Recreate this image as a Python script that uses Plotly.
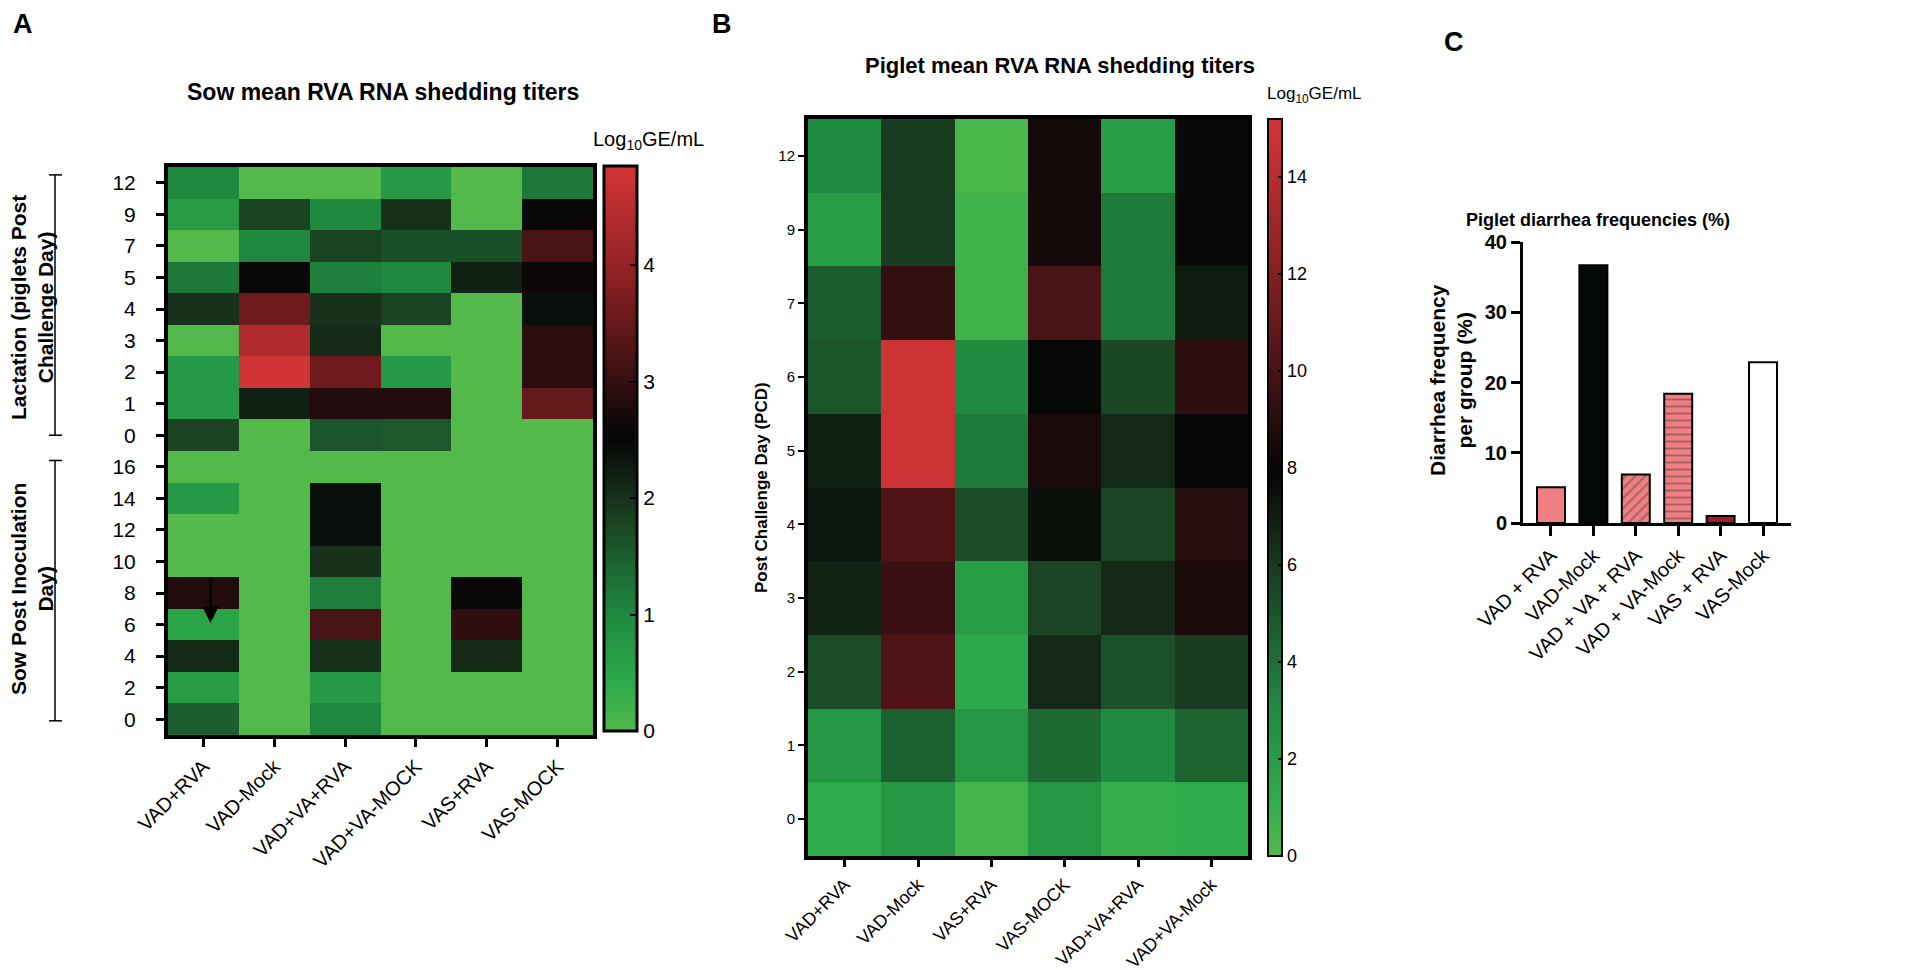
import plotly.graph_objects as go

# ---------------- data ----------------
sow_groups = ["VAD+RVA", "VAD-Mock", "VAD+VA+RVA", "VAD+VA-MOCK", "VAS+RVA", "VAS-MOCK"]
sow_day_labels = ["12", "9", "7", "5", "4", "3", "2", "1", "0",
                  "16", "14", "12", "10", "8", "6", "4", "2", "0"]
# Log10 GE/mL, rows top->bottom (lactation PCD 12..0, then sow PID 16..0)
sow_vad_rva = [1.0, 0.65, 0.0, 1.2, 2.0, 0.0, 0.7, 0.7, 1.8, 0.0, 0.7, 0.0, 0.0, 2.8, 0.5, 2.1, 0.65, 1.5]
sow_vad_mock = [0.0, 1.8, 1.0, 2.55, 3.6, 4.35, 4.8, 2.2, 0.0, 0.0, 0.0, 0.0, 0.0, 0.0, 0.0, 0.0, 0.0, 0.0]
sow_vadva_rva = [0.0, 1.0, 1.8, 1.1, 2.0, 2.1, 3.6, 2.8, 1.6, 0.0, 2.4, 2.4, 2.0, 1.1, 3.2, 2.0, 0.7, 1.0]
sow_vadva_mock = [0.7, 2.0, 1.65, 1.0, 1.8, 0.0, 0.7, 2.8, 1.55, 0.0, 0.0, 0.0, 0.0, 0.0, 0.0, 0.0, 0.0, 0.0]
sow_vas_rva = [0.0, 0.0, 1.65, 2.2, 0.0, 0.0, 0.0, 0.0, 0.0, 0.0, 0.0, 0.0, 0.0, 2.55, 2.95, 2.1, 0.0, 0.0]
sow_vas_mock = [1.2, 2.55, 3.2, 2.6, 2.4, 2.9, 2.9, 3.5, 0.0, 0.0, 0.0, 0.0, 0.0, 0.0, 0.0, 0.0, 0.0, 0.0]

piglet_groups = ["VAD+RVA", "VAD-Mock", "VAS+RVA", "VAS-MOCK", "VAD+VA+RVA", "VAD+VA-Mock"]
piglet_day_labels = ["12", "9", "7", "6", "5", "4", "3", "2", "1", "0"]
pig_vad_rva = [3.0, 2.0, 4.7, 5.0, 6.9, 7.3, 6.8, 5.3, 2.3, 1.2]
pig_vad_mock = [5.9, 5.9, 9.4, 14.9, 14.9, 10.3, 9.6, 10.3, 4.6, 2.3]
pig_vas_rva = [0.3, 0.6, 0.6, 3.0, 3.65, 5.3, 2.0, 1.3, 2.3, 0.4]
pig_vas_mock = [8.4, 8.4, 10.1, 7.8, 8.6, 7.5, 5.6, 6.6, 4.3, 2.3]
pig_vadva_rva = [2.0, 3.65, 3.65, 5.5, 6.6, 5.6, 6.6, 5.1, 3.0, 1.0]
pig_vadva_mock = [7.7, 7.7, 7.1, 9.2, 7.9, 8.9, 8.6, 5.9, 4.5, 1.2]

diarrhea_groups = ["VAD + RVA", "VAD-Mock", "VAD + VA + RVA", "VAD + VA-Mock", "VAS + RVA", "VAS-Mock"]
diarrhea_freq = [5.1, 36.7, 6.9, 18.4, 1.0, 22.9]

# ---------------- styling ----------------
W, H = 1905, 970
FONT = "Liberation Sans, Arial, sans-serif"
colorscale = [
    [0.00, "#52b94a"], [0.08, "#2dab4a"], [0.20, "#1f8a40"], [0.28, "#1c6a33"],
    [0.40, "#19361d"], [0.52, "#050505"], [0.63, "#3a1012"], [0.80, "#8a2022"],
    [1.00, "#d43437"],
]


def px(x):
    return x / W


def py(y):
    return 1 - y / H


sow_cols = [sow_vad_rva, sow_vad_mock, sow_vadva_rva, sow_vadva_mock, sow_vas_rva, sow_vas_mock]
sow_z = [list(r) for r in zip(*sow_cols)]
pig_cols = [pig_vad_rva, pig_vad_mock, pig_vas_rva, pig_vas_mock, pig_vadva_rva, pig_vadva_mock]
pig_z = [list(r) for r in zip(*pig_cols)]

sow_rows = list(range(len(sow_day_labels)))
pig_rows = list(range(len(piglet_day_labels)))

fig = go.Figure()

# Panel A heatmap
fig.add_trace(go.Heatmap(
    z=sow_z, x=list(range(len(sow_groups))), y=sow_rows,
    colorscale=colorscale, zmin=0, zmax=4.85, xaxis="x", yaxis="y",
    colorbar=dict(
        x=px(596), xanchor="left", y=py(723), yanchor="bottom",
        len=(723 - 158) / H, lenmode="fraction", thickness=33, thicknessmode="pixels",
        outlinewidth=3, outlinecolor="black", tickvals=[0, 1, 2, 3, 4],
        ticks="inside", ticklen=8, tickwidth=2, tickcolor="black",
        tickfont=dict(size=21, family=FONT, color="black"), xpad=0, ypad=0,
    ),
    hoverinfo="skip",
))

# Panel B heatmap
fig.add_trace(go.Heatmap(
    z=pig_z, x=list(range(len(piglet_groups))), y=pig_rows,
    colorscale=colorscale, zmin=0, zmax=15.2, xaxis="x2", yaxis="y2",
    colorbar=dict(
        x=px(1260), xanchor="left", y=py(848), yanchor="bottom",
        len=(848 - 111) / H, lenmode="fraction", thickness=14, thicknessmode="pixels",
        outlinewidth=2, outlinecolor="black", tickvals=list(range(0, 15, 2)),
        ticks="inside", ticklen=5, tickwidth=1.5, tickcolor="black",
        tickfont=dict(size=18, family=FONT, color="black"), xpad=0, ypad=0,
    ),
    hoverinfo="skip",
))

# Panel C bars
bar_fill = ["#f07e82", "#050808", "#f07e82", "#f07e82", "#a31c22", "white"]
bar_shape = ["", "", "/", "-", "", ""]
fig.add_trace(go.Bar(
    x=list(range(len(diarrhea_groups))), y=diarrhea_freq, xaxis="x3", yaxis="y3",
    width=0.66,
    marker=dict(
        color=bar_fill, line=dict(color="black", width=2),
        pattern=dict(shape=bar_shape, fgcolor="white", bgcolor=bar_fill,
                     size=7, solidity=0.25, fillmode="overlay"),
    ),
    hoverinfo="skip", showlegend=False,
))

axis_common = dict(showgrid=False, zeroline=False, color="black", automargin=False)

fig.update_layout(
    template="none",
    width=W, height=H, margin=dict(l=0, r=0, t=0, b=0, pad=0), autosize=False,
    paper_bgcolor="white", plot_bgcolor="white", showlegend=False,
    font=dict(family=FONT, color="black"),
    xaxis=dict(
        domain=[px(160), px(585)], anchor="y", range=[-0.5, 5.5],
        tickvals=list(range(len(sow_groups))), ticktext=sow_groups, tickangle=-45,
        ticks="outside", ticklen=8, tickwidth=3, tickcolor="black",
        tickfont=dict(size=20, family=FONT), showline=True, linewidth=4,
        linecolor="black", mirror=True, **axis_common,
    ),
    yaxis=dict(
        domain=[py(727), py(159)], anchor="x", range=[17.5, -0.5],
        tickvals=sow_rows, ticktext=sow_day_labels,
        ticks="outside", ticklen=8, tickwidth=3, tickcolor="black",
        tickfont=dict(size=21, family=FONT), ticklabelstandoff=16,
        showline=True, linewidth=4, linecolor="black", mirror=True, **axis_common,
    ),
    xaxis2=dict(
        domain=[px(800), px(1240)], anchor="y2", range=[-0.5, 5.5],
        tickvals=list(range(len(piglet_groups))), ticktext=piglet_groups, tickangle=-45,
        ticks="outside", ticklen=7, tickwidth=3, tickcolor="black",
        tickfont=dict(size=18, family=FONT), showline=True, linewidth=4,
        linecolor="black", mirror=True, **axis_common,
    ),
    yaxis2=dict(
        domain=[py(848), py(111)], anchor="x2", range=[9.5, -0.5],
        tickvals=pig_rows, ticktext=piglet_day_labels,
        ticks="outside", ticklen=6, tickwidth=2, tickcolor="black",
        tickfont=dict(size=15, family=FONT),
        showline=True, linewidth=4, linecolor="black", mirror=True, **axis_common,
    ),
    xaxis3=dict(
        domain=[px(1515), px(1783)], anchor="y3", range=[-0.66, 5.66],
        tickvals=list(range(len(diarrhea_groups))), ticktext=diarrhea_groups, tickangle=-45,
        ticks="outside", ticklen=10, tickwidth=3, tickcolor="black",
        tickfont=dict(size=20, family=FONT), showline=True, linewidth=3,
        linecolor="black", **axis_common,
    ),
    yaxis3=dict(
        domain=[py(515), py(234)], anchor="x3", range=[0, 40],
        tickvals=[0, 10, 20, 30, 40],
        ticks="outside", ticklen=9, tickwidth=3, tickcolor="black",
        tickfont=dict(size=20, family=FONT, weight="bold"),
        showline=True, linewidth=3, linecolor="black", **axis_common,
    ),
)

ann = []


def text(x, y, s, size, bold=False, angle=0, xanchor="center", yanchor="middle", align="center"):
    ann.append(dict(
        x=x, y=y, xref="paper", yref="paper", text=s, showarrow=False,
        textangle=angle, xanchor=xanchor, yanchor=yanchor, align=align,
        font=dict(size=size, family=FONT, color="black", weight="bold" if bold else "normal"),
    ))


# panel letters
text(px(3), py(16), "A", 27, bold=True, xanchor="left")
text(px(702), py(16), "B", 27, bold=True, xanchor="left")
text(px(1434), py(34), "C", 27, bold=True, xanchor="left")
# titles
text(px(375), py(84), "Sow mean RVA RNA shedding titers", 23, bold=True)
text(px(1052), py(57), "Piglet mean RVA RNA shedding titers", 22, bold=True)
text(px(1590), py(212), "Piglet diarrhea frequencies (%)", 18, bold=True)
# colorbar titles
text(px(640), py(133), "Log<sub>10</sub>GE/mL", 20)
text(px(1306), py(87), "Log<sub>10</sub>GE/mL", 17)
# axis titles
text(px(24), py(300), "Lactation (piglets Post<br>Challenge Day)", 21, bold=True, angle=-90)
text(px(24), py(581), "Sow Post Inoculation<br>Day)", 21, bold=True, angle=-90)
text(px(753), py(480), "Post Challenge Day (PCD)", 17, bold=True, angle=-90)
text(px(1443), py(372), "Diarrhea frequency<br>per group (%)", 21, bold=True, angle=-90)

# arrow in the sow heatmap (VAD+RVA, PID 8 -> 6)
ann.append(dict(
    x=0.1, y=13.95, xref="x", yref="y", ax=0.1, ay=12.45, axref="x", ayref="y",
    showarrow=True, arrowhead=2, arrowsize=1.1, arrowwidth=3, arrowcolor="black", text="",
))
fig.update_layout(annotations=ann)

# brackets for the sow heatmap row groups
shapes = []
for y0, y1 in [(-0.25, 8.0), (8.8, 17.05)]:
    shapes.append(dict(type="line", xref="paper", yref="y", x0=px(47), x1=px(47), y0=y0, y1=y1,
                       line=dict(color="black", width=1.5)))
    for yy in (y0, y1):
        shapes.append(dict(type="line", xref="paper", yref="y", x0=px(41), x1=px(54), y0=yy, y1=yy,
                           line=dict(color="black", width=1.5)))
fig.update_layout(shapes=shapes)

fig.write_html("out.html")
